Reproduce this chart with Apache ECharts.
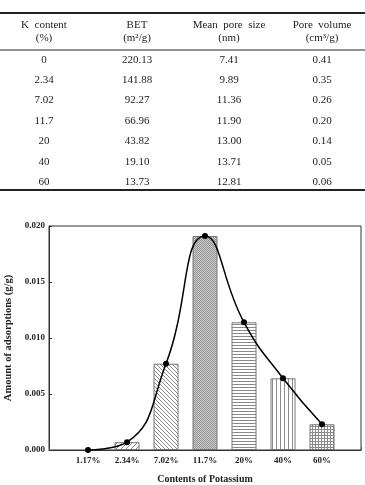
<!DOCTYPE html>
<html>
<head>
<meta charset="utf-8">
<script src="https://cdn.jsdelivr.net/npm/echarts@6/dist/echarts.min.js"></script>
<style>
  html, body { margin: 0; padding: 0; background: #fff; }
  #main { width: 365px; height: 485px; }
</style>
</head>
<body>
<div id="main"></div>
<script>
// table data
var headTop = ['K  content', 'BET', 'Mean  pore  size', 'Pore  volume'];
var headSub = ['(%)', '(m²/g)', '(nm)', '(cm³/g)'];
var kContent = ['0', '2.34', '7.02', '11.7', '20', '40', '60'];
var bet = ['220.13', '141.88', '92.27', '66.96', '43.82', '19.10', '13.73'];
var poreSize = ['7.41', '9.89', '11.36', '11.90', '13.00', '13.71', '12.81'];
var poreVolume = ['0.41', '0.35', '0.26', '0.20', '0.14', '0.05', '0.06'];

// chart data
var potassium = ['1.17%', '2.34%', '7.02%', '11.7%', '20%', '40%', '60%'];
var adsorption = [0.0000, 0.0007, 0.0077, 0.0191, 0.0114, 0.0064, 0.0023];
var yTicks = [0, 0.005, 0.010, 0.015, 0.020];

var serif = '"Liberation Serif", "DejaVu Serif", serif';

// hatch fills for the bars
function makePattern (kind) {
  var c = document.createElement('canvas');
  var s = kind === 'check' ? 2 : (kind === 'slash' ? 5 : (kind === 'back' ? 4 : 3));
  if (kind === 'vert') s = 4;
  c.width = s; c.height = s;
  var g = c.getContext('2d');
  g.fillStyle = '#fff';
  g.fillRect(0, 0, s, s);
  g.strokeStyle = '#8a8a8a';
  g.lineWidth = 1;
  if (kind === 'check') {
    g.fillStyle = '#cacaca';
    g.fillRect(0, 0, 2, 2);
    g.fillStyle = '#959595';
    g.fillRect(0, 0, 1, 1);
    g.fillRect(1, 1, 1, 1);
  } else if (kind === 'slash') {
    g.beginPath();
    g.moveTo(0, s); g.lineTo(s, 0);
    g.moveTo(-1, 1); g.lineTo(1, -1);
    g.moveTo(s - 1, s + 1); g.lineTo(s + 1, s - 1);
    g.stroke();
  } else if (kind === 'back') {
    g.beginPath();
    g.moveTo(0, 0); g.lineTo(s, s);
    g.moveTo(s - 1, -1); g.lineTo(s + 1, 1);
    g.moveTo(-1, s - 1); g.lineTo(1, s + 1);
    g.stroke();
  } else {
    if (kind === 'horiz' || kind === 'grid') {
      g.beginPath(); g.moveTo(0, 0.5); g.lineTo(s, 0.5); g.stroke();
    }
    if (kind === 'vert' || kind === 'grid') {
      g.beginPath(); g.moveTo(0.5, 0); g.lineTo(0.5, s); g.stroke();
    }
  }
  return { image: c, repeat: 'repeat' };
}
var fills = ['none', 'slash', 'back', 'check', 'horiz', 'vert', 'grid'];

var cats = [''].concat(potassium, ['']);
var barData = [null];
var lineData = [null];
adsorption.forEach(function (v, i) {
  barData.push(fills[i] === 'none' ? null : {
    value: v,
    itemStyle: { color: makePattern(fills[i]), borderColor: '#777', borderWidth: 1 }
  });
  lineData.push(v);
});
barData.push(null);
lineData.push(null);

// table drawn as graphic text
var colX = [44, 137, 229, 322];
var rowY = [60, 80, 100.5, 121, 141.5, 162, 182];
var cols = [kContent, bet, poreSize, poreVolume];
var graphics = [];
function txt (x, y, s) {
  graphics.push({
    type: 'text', x: x, y: y,
    style: { text: s, font: '11px ' + serif, fill: '#222', align: 'center', verticalAlign: 'middle' }
  });
}
function hline (y, w) {
  graphics.push({
    type: 'line', shape: { x1: 0, y1: y, x2: 365, y2: y },
    style: { stroke: '#222', lineWidth: w }
  });
}
hline(13, 2);
hline(50, 1);
hline(190, 2);
colX.forEach(function (x, c) {
  txt(x, 25, headTop[c]);
  txt(x, 38, headSub[c]);
  cols[c].forEach(function (s, r) { txt(x, rowY[r], s); });
});

var chart = echarts.init(document.getElementById('main'));
chart.setOption({
  animation: false,
  textStyle: { fontFamily: serif },
  graphic: graphics,
  grid: {
    left: 49, right: 4, top: 226, bottom: 35,
    outerBoundsMode: 'none',
    containLabel: false,
    show: true, borderColor: '#333', borderWidth: 1
  },
  xAxis: {
    type: 'category',
    data: cats,
    boundaryGap: false,
    name: 'Contents of Potassium',
    nameLocation: 'middle',
    nameGap: 24,
    nameTextStyle: { fontFamily: serif, fontWeight: 'bold', fontSize: 10, color: '#222' },
    axisLine: { lineStyle: { color: '#333', width: 1 } },
    axisTick: { inside: true, length: 3, lineStyle: { color: '#555' } },
    axisLabel: { fontFamily: serif, fontWeight: 'bold', fontSize: 9, color: '#222', margin: 6, interval: 0 },
    splitLine: { show: false }
  },
  yAxis: {
    type: 'value',
    min: yTicks[0],
    max: yTicks[yTicks.length - 1],
    interval: 0.005,
    name: 'Amount of adsorptions (g/g)',
    nameLocation: 'middle',
    nameGap: 29,
    nameTextStyle: { fontFamily: serif, fontWeight: 'bold', fontSize: 10.5, color: '#222' },
    axisLine: { show: true, lineStyle: { color: '#333', width: 1 } },
    axisTick: { show: true, inside: true, length: 3, lineStyle: { color: '#333' } },
    axisLabel: {
      fontFamily: serif, fontWeight: 'bold', fontSize: 9, color: '#222', margin: 4,
      formatter: function (v) { return v.toFixed(3); }
    },
    splitLine: { show: false }
  },
  series: [
    {
      type: 'bar',
      data: barData,
      barWidth: 25,
      z: 2
    },
    {
      type: 'line',
      data: lineData,
      smooth: 0.5,
      symbol: 'circle',
      symbolSize: 6,
      itemStyle: { color: '#000' },
      lineStyle: { color: '#000', width: 1.5 },
      z: 5
    }
  ]
});
</script>
</body>
</html>
